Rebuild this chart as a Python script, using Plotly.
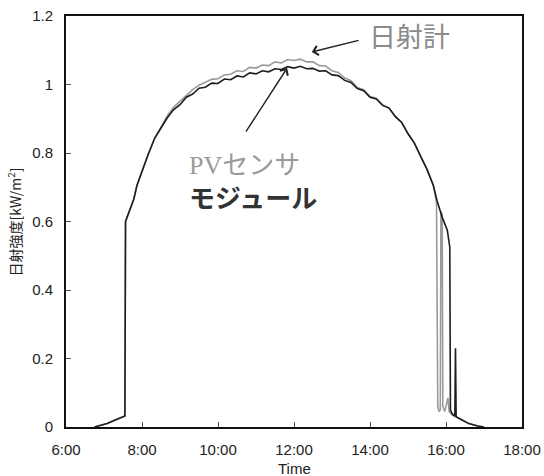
import plotly.graph_objects as go

# ---------------- data ----------------
module_time = ["6:45", "6:55", "7:05", "7:15", "7:25", "7:33", "7:34", "7:37", "7:42", "7:47", "7:52",
               "8:00", "8:10", "8:20", "8:30", "8:40", "8:50", "9:00", "9:10", "9:20", "9:30", "9:40", "9:50",
               "10:00", "10:10", "10:20", "10:30", "10:40", "10:50", "11:00", "11:10", "11:20", "11:30", "11:40", "11:50",
               "12:00", "12:10", "12:20", "12:30", "12:40", "12:50", "13:00", "13:10", "13:20", "13:30", "13:40", "13:50",
               "14:00", "14:10", "14:20", "14:30", "14:40", "14:50", "15:00", "15:10", "15:20", "15:30", "15:40",
               "15:46", "15:54", "16:02", "16:06", "16:07", "16:10", "16:14", "16:15", "16:16", "16:24", "16:36", "16:50", "17:00"]
module_val = [0.000, 0.004, 0.010, 0.018, 0.026, 0.032, 0.600, 0.615, 0.640, 0.665, 0.705,
              0.748, 0.797, 0.843, 0.872, 0.903, 0.927, 0.941, 0.963, 0.972, 0.989, 0.992, 1.004,
              1.003, 1.016, 1.014, 1.025, 1.022, 1.034, 1.031, 1.040, 1.037, 1.046, 1.044, 1.052,
              1.048, 1.053, 1.046, 1.047, 1.039, 1.040, 1.028, 1.026, 1.012, 1.006, 0.988, 0.982,
              0.963, 0.958, 0.939, 0.931, 0.906, 0.889, 0.856, 0.829, 0.788, 0.752, 0.705,
              0.660, 0.612, 0.575, 0.525, 0.050, 0.038, 0.032, 0.230, 0.030, 0.022, 0.010, 0.003, 0.000]

sensor_time = ["6:45", "6:55", "7:05", "7:15", "7:25", "7:33", "7:34", "7:37", "7:42", "7:47", "7:52",
               "8:00", "8:10", "8:20", "8:30", "8:40", "8:50", "9:00", "9:10", "9:20", "9:30", "9:40", "9:50",
               "10:00", "10:10", "10:20", "10:30", "10:40", "10:50", "11:00", "11:10", "11:20", "11:30", "11:40", "11:50",
               "12:00", "12:10", "12:20", "12:30", "12:40", "12:50", "13:00", "13:10", "13:20", "13:30", "13:40", "13:50",
               "14:00", "14:10", "14:20", "14:30", "14:40", "14:50", "15:00", "15:10", "15:20", "15:30", "15:40",
               "15:45", "15:47", "15:49", "15:51", "15:52", "15:54", "15:55", "15:58", "16:03", "16:05", "16:10",
               "16:24", "16:36", "16:50", "17:00"]
sensor_val = [0.000, 0.004, 0.010, 0.018, 0.026, 0.032, 0.600, 0.615, 0.640, 0.665, 0.705,
              0.748, 0.797, 0.843, 0.876, 0.909, 0.934, 0.952, 0.970, 0.985, 0.998, 1.006, 1.015,
              1.017, 1.028, 1.030, 1.040, 1.038, 1.050, 1.048, 1.057, 1.055, 1.066, 1.063, 1.073,
              1.070, 1.074, 1.066, 1.066, 1.055, 1.054, 1.040, 1.035, 1.019, 1.011, 0.991, 0.985,
              0.965, 0.960, 0.940, 0.932, 0.907, 0.890, 0.857, 0.830, 0.789, 0.753, 0.706,
              0.655, 0.060, 0.045, 0.050, 0.630, 0.620, 0.060, 0.045, 0.085, 0.045, 0.035,
              0.022, 0.010, 0.003, 0.000]

x_tick_vals = [6, 8, 10, 12, 14, 16, 18]
x_tick_text = ["6:00", "8:00", "10:00", "12:00", "14:00", "16:00", "18:00"]
y_tick_vals = [0, 0.2, 0.4, 0.6, 0.8, 1.0, 1.2]
y_tick_text = ["0", "0.2", "0.4", "0.6", "0.8", "1", "1.2"]


def to_hours(labels):
    out = []
    for s in labels:
        h, m = s.split(":")
        out.append(int(h) + int(m) / 60.0)
    return out


fig = go.Figure()
fig.add_trace(go.Scatter(x=to_hours(sensor_time), y=sensor_val, mode="lines",
                         line=dict(color="#9a9a9a", width=1.6), name="PVセンサ"))
fig.add_trace(go.Scatter(x=to_hours(module_time), y=module_val, mode="lines",
                         line=dict(color="#1e1e1e", width=1.6), name="モジュール"))

axis_common = dict(showline=True, linecolor="#111", linewidth=2, mirror=True,
                   ticks="inside", ticklen=5, tickwidth=1, tickcolor="#555",
                   showgrid=False, zeroline=False, automargin=False,
                   tickfont=dict(family="Liberation Sans, Arial", size=15, color="#222"))

fig.update_xaxes(range=[6, 18], tickvals=x_tick_vals, ticktext=x_tick_text,
                 ticklabelstandoff=8, **axis_common)
fig.update_yaxes(range=[0, 1.2], tickvals=y_tick_vals, ticktext=y_tick_text,
                 ticklabelstandoff=8, **axis_common)

annotations = [
    # axis titles
    dict(text="Time", x=0.5, y=-0.1, xref="paper", yref="paper", showarrow=False,
         xanchor="center", yanchor="middle",
         font=dict(family="Liberation Sans, Arial", size=15, color="#222")),
    dict(text="日射強度[kW/m<sup>2</sup>]", x=-0.112, y=0.5, xref="paper", yref="paper",
         showarrow=False, textangle=-90, xanchor="center", yanchor="middle",
         font=dict(family="Noto Sans CJK JP, Liberation Sans", size=14, color="#222")),
    # labels
    dict(text="日射計", x=0.753, y=0.953, xref="paper", yref="paper", showarrow=False,
         xanchor="center", yanchor="middle",
         font=dict(family="Noto Sans CJK JP", size=27, color="#8a8a8a")),
    dict(text="PVセンサ", x=0.265, y=0.637, xref="paper", yref="paper", showarrow=False,
         xanchor="left", yanchor="middle",
         font=dict(family="Liberation Serif, Noto Sans CJK JP", size=26, color="#9a9a9a")),
    dict(text="モジュール", x=0.265, y=0.56, xref="paper", yref="paper", showarrow=False,
         xanchor="left", yanchor="middle",
         font=dict(family="Noto Sans CJK JP", size=26, color="#333", weight="bold")),
    # arrows
    dict(text="", x=12.47, y=1.095, ax=13.74, ay=1.13, xref="x", yref="y", axref="x", ayref="y",
         showarrow=True, arrowhead=4, arrowsize=1.3, arrowwidth=1.4, arrowcolor="#222"),
    dict(text="", x=11.82, y=1.048, ax=10.71, ay=0.858, xref="x", yref="y", axref="x", ayref="y",
         showarrow=True, arrowhead=4, arrowsize=1.3, arrowwidth=1.4, arrowcolor="#222"),
]

fig.update_layout(width=544, height=476, autosize=False,
                  margin=dict(l=66, r=22, t=16, b=49),
                  paper_bgcolor="white", plot_bgcolor="white",
                  showlegend=False, annotations=annotations)

fig.write_html("out.html")
